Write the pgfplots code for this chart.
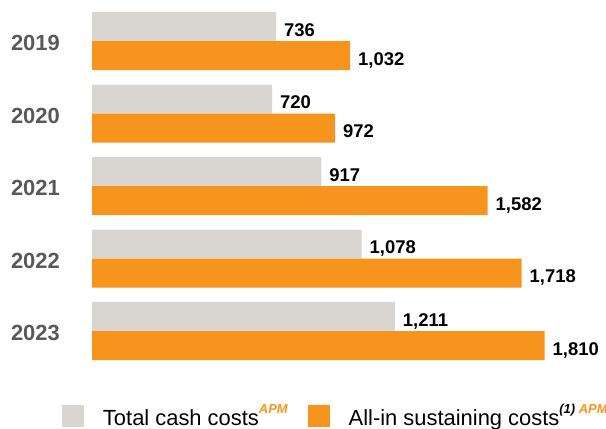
\documentclass[border=0pt]{standalone}
\usepackage{pgfplots}
\pgfplotsset{compat=1.18}
\usepackage{fontspec}
\setmainfont{Liberation Sans}
\definecolor{tccgray}{RGB}{217,214,210}
\definecolor{aiscorange}{RGB}{247,148,30}
\definecolor{yeargray}{RGB}{89,89,89}
\begin{document}
\begin{tikzpicture}
\useasboundingbox (0,0) rectangle (606bp,-429bp);
\begin{axis}[
  at={(92bp,-4.75bp)}, anchor=north west,
  scale only axis,
  width=500bp, height=362.5bp,
  xmin=0, xmax=2000,
  ymin=-0.5, ymax=4.5,
  xbar, bar width=29bp,
  axis line style={draw=none},
  tick style={draw=none},
  ytick={0,1,2,3,4},
  yticklabels={2023,2022,2021,2020,2019},
  xtick=\empty,
  major tick length=0pt,
  yticklabel style={inner sep=0pt, anchor=east, xshift=-32bp, yshift=-2.4bp,
    font=\fontsize{22}{22}\selectfont\bfseries, text=yeargray},
  nodes near coords={\pgfmathprintnumber[fixed,1000 sep={,},assume math mode=true]{\pgfplotspointmeta}},
  nodes near coords style={anchor=base west, inner sep=0pt, xshift=8bp, yshift=-9.5bp,
    font=\fontsize{18.5}{18.5}\selectfont\bfseries, text=black},
  legend columns=2,
  legend image code/.code={\fill[#1] (0bp,-1.3bp) rectangle (22bp,20.7bp);},
  legend style={draw=none, fill=none, inner sep=0pt, outer sep=0pt,
    at={(-0.06,-0.133)}, anchor=west,
    cells={anchor=base west, inner sep=0pt},
    font=\fontsize{22}{22}\selectfont,
    /tikz/every odd column/.append style={column sep=17bp},
    /tikz/every even column/.append style={column sep=18bp}},
]
\addplot[fill=tccgray, draw=none, bar shift=14.5bp] coordinates {(736,4) (720,3) (917,2) (1078,1) (1211,0)};
\addplot[fill=aiscorange, draw=none, bar shift=-14.5bp] coordinates {(1032,4) (972,3) (1582,2) (1718,1) (1810,0)};
\legend{Total cash costs\raisebox{12.7bp}{\fontsize{13}{13}\selectfont\bfseries\itshape\color{aiscorange}APM},
  All-in sustaining costs\raisebox{12.7bp}{\fontsize{13}{13}\selectfont\bfseries\itshape (1) \color{aiscorange}APM}}
\end{axis}
\end{tikzpicture}
\end{document}
